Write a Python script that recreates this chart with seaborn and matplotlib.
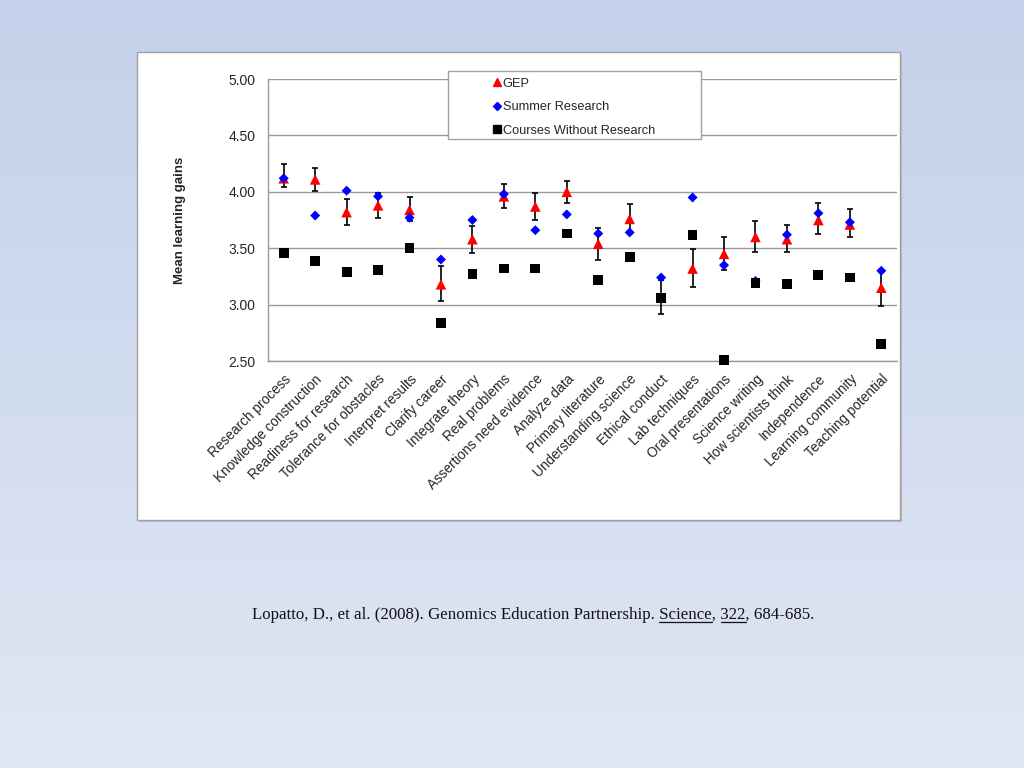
import numpy as np
import pandas as pd
import matplotlib
matplotlib.use("Agg")
import matplotlib.pyplot as plt
import seaborn as sns
from matplotlib.patches import Rectangle
from matplotlib.lines import Line2D

categories = [
    "Research process", "Knowledge construction", "Readiness for research",
    "Tolerance for obstacles", "Interpret results", "Clarify career",
    "Integrate theory", "Real problems", "Assertions need evidence",
    "Analyze data", "Primary literature", "Understanding science",
    "Ethical conduct", "Lab techniques", "Oral presentations",
    "Science writing", "How scientists think", "Independence",
    "Learning community", "Teaching potential",
]

gep = [4.12, 4.11, 3.82, 3.88, 3.84, 3.18, 3.58, 3.96, 3.87, 4.00,
       3.54, 3.76, 3.07, 3.32, 3.45, 3.60, 3.58, 3.75, 3.71, 3.15]
gep_lo = [4.04, 4.01, 3.71, 3.77, 3.74, 3.03, 3.46, 3.86, 3.75, 3.90,
          3.40, 3.64, 2.92, 3.16, 3.31, 3.47, 3.47, 3.63, 3.60, 2.99]
gep_hi = [4.25, 4.21, 3.94, 3.99, 3.95, 3.34, 3.70, 4.07, 3.99, 4.10,
          3.68, 3.89, 3.22, 3.49, 3.60, 3.74, 3.71, 3.90, 3.85, 3.30]
summer = [4.12, 3.79, 4.01, 3.96, 3.77, 3.40, 3.75, 3.98, 3.66, 3.80,
          3.63, 3.64, 3.24, 3.95, 3.35, 3.21, 3.62, 3.81, 3.73, 3.30]
courses = [3.46, 3.39, 3.29, 3.31, 3.50, 2.84, 3.27, 3.32, 3.32, 3.63,
           3.22, 3.42, 3.06, 3.62, 2.51, 3.19, 3.18, 3.26, 3.24, 2.65]

groups = ["GEP", "Summer Research", "Courses Without Research"]
y_ticks = [2.5, 3.0, 3.5, 4.0, 4.5, 5.0]

citation_parts = ["Lopatto, D., et al. (2008). Genomics Education Partnership. ",
                  "Science", ", ", "322", ", 684-685."]
underlined = [False, True, False, True, False]

sns.set_style("white")
plt.rcParams["font.family"] = ["Liberation Sans", "DejaVu Sans"]

pos = np.arange(len(categories))
df = pd.DataFrame({
    "pos": np.concatenate([pos, pos, pos]),
    "value": gep + summer + courses,
    "group": np.repeat(groups, len(categories)),
})

colors = {"GEP": "#ff0000", "Summer Research": "#0000ff",
          "Courses Without Research": "#000000"}
markers = {"GEP": "^", "Summer Research": "D", "Courses Without Research": "s"}
sizes = {"GEP": 58, "Summer Research": 26, "Courses Without Research": 50}

fig = plt.figure(figsize=(10.24, 7.68), dpi=100)

# gradient background
bg = fig.add_axes([0, 0, 1, 1], zorder=-10)
grad = np.linspace(0, 1, 256)[:, None]
top = np.array([195, 209, 234]) / 255
bot = np.array([224, 231, 244]) / 255
img = top[None, None, :] * (1 - grad[:, :, None]) + bot[None, None, :] * grad[:, :, None]
bg.imshow(img, aspect="auto", extent=[0, 1, 0, 1])
bg.axis("off")

# white chart panel
fig.patches.append(Rectangle((0.1357, 0.3203), 0.7451, 0.6094, transform=fig.transFigure,
                             facecolor="#b8bcc4", edgecolor="none", zorder=-5))
fig.patches.append(Rectangle((0.1338, 0.3229), 0.7451, 0.6094, transform=fig.transFigure,
                             facecolor="white", edgecolor="#a0a0a0", linewidth=1, zorder=-4))

ax = fig.add_axes([0.2617, 0.5299, 0.6143, 0.3672])
ax.set_facecolor("none")

yerr = [np.array(gep) - np.array(gep_lo), np.array(gep_hi) - np.array(gep)]
ax.errorbar(pos, gep, yerr=yerr, fmt="none", ecolor="black", elinewidth=1.2,
            capsize=2.2, capthick=1.2, zorder=2)

sns.scatterplot(data=df, x="pos", y="value", hue="group", style="group",
                size="group", palette=colors, markers=markers, sizes=sizes,
                hue_order=groups, style_order=groups, size_order=groups,
                linewidth=0, legend=False, ax=ax, zorder=3, clip_on=False)

ax.set_xlim(-0.5, len(categories) - 0.5)
ax.set_ylim(2.5, 5.0)
ax.set_yticks(y_ticks)
ax.set_yticklabels([f"{v:.2f}" for v in y_ticks], fontsize=10)
ax.yaxis.grid(True, color="#9a9a9a", linewidth=1)
ax.set_axisbelow(True)

ax.set_xticks(pos)
ax.set_xticklabels(categories, rotation=45, ha="right", rotation_mode="anchor",
                   fontsize=9.8)
ax.set_xticks(np.arange(-0.5, len(categories), 1), minor=True)
ax.tick_params(axis="x", which="major", length=0, pad=8)
ax.tick_params(axis="x", which="minor", length=4, color="#9a9a9a", width=1,
               direction="out")
ax.tick_params(axis="y", length=5, color="#9a9a9a", width=1, direction="out", pad=4)
ax.set_xlabel("")
ax.set_ylabel("Mean learning gains", fontsize=9.5, fontweight="bold")
ax.yaxis.set_label_coords(-0.13, 0.5)

for side in ["top", "right"]:
    ax.spines[side].set_visible(False)
for side in ["left", "bottom"]:
    ax.spines[side].set_color("#9a9a9a")
    ax.spines[side].set_linewidth(1)

# legend box
fig.patches.append(Rectangle((0.4375, 0.8190), 0.2471, 0.0885, transform=fig.transFigure,
                             facecolor="white", edgecolor="#a0a0a0", linewidth=1, zorder=5))
handles = [Line2D([], [], linestyle="none", marker=markers[g], color=colors[g],
                  markersize={"GEP": 6, "Summer Research": 4.2,
                              "Courses Without Research": 6}[g])
           for g in groups]
leg = fig.legend(handles, groups, loc="upper left", bbox_to_anchor=(0.476, 0.907),
                 frameon=False, fontsize=9.2, handlelength=0.5, handletextpad=0.2,
                 labelspacing=0.9, borderpad=0)
leg.set_zorder(6)

# citation, with underlined journal and volume
renderer = fig.canvas.get_renderer()
cite_fs = 12.2
cite = fig.text(0.521, 0.199, "".join(citation_parts), ha="center", va="center",
                fontsize=cite_fs, family="Liberation Serif", color="#111111")
full_bb = cite.get_window_extent(renderer)
x_left = full_bb.x0
prefix = ""
for part, ul in zip(citation_parts, underlined):
    if ul:
        t0 = fig.text(0, 0, prefix + part, fontsize=cite_fs, family="Liberation Serif")
        w_end = t0.get_window_extent(renderer).width
        t2 = fig.text(0, 0, part, fontsize=cite_fs, family="Liberation Serif")
        w_part = t2.get_window_extent(renderer).width
        t0.remove()
        t2.remove()
        xa = (x_left + w_end - w_part) / fig.bbox.width
        xb = (x_left + w_end) / fig.bbox.width
        yl = (full_bb.y0 + 1) / fig.bbox.height
        fig.add_artist(Line2D([xa, xb], [yl, yl], transform=fig.transFigure,
                              color="#111111", linewidth=0.9))
    prefix += part

fig.savefig("out.png", dpi=100)
